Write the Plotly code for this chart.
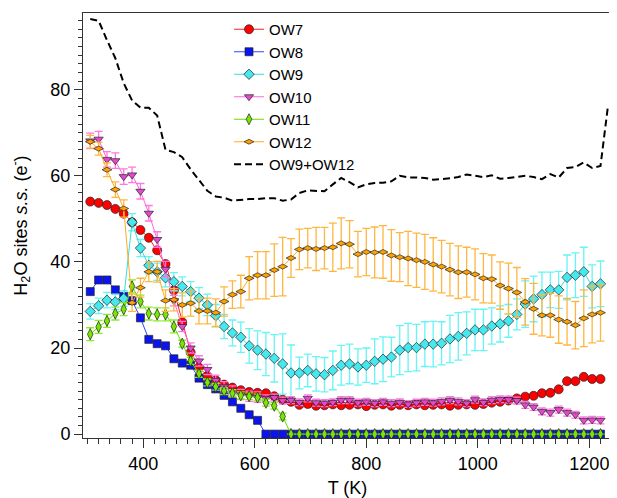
import plotly.graph_objects as go

# Temperatures (K)
T = [305 + 15 * i for i in range(62)]

ow7 = [54.0, 53.7, 53.2, 52.3, 51.2, 49.2, 47.4, 45.6, 42.7, 39.5,
       33.4, 26.0, 19.0, 15.5, 13.5, 12.5, 11.5, 10.8, 10.2, 9.8,
       9.6, 9.5, 8.8, 8.0, 7.5, 6.8, 7.0, 6.6, 6.7, 6.9,
       6.7, 6.8, 6.9, 6.5, 6.8, 6.9, 6.6, 6.8, 6.7, 6.9,
       6.7, 6.8, 6.9, 6.6, 6.8, 6.9, 6.8, 7.0, 7.3, 7.5,
       7.8, 8.3, 8.7, 8.9, 9.5, 9.6, 10.4, 12.3, 12.3, 13.3,
       12.8, 12.8]

ow8 = [33.1, 35.8, 35.8, 33.5, 32.0, 31.0, 27.0, 22.0, 21.0, 20.5,
       17.5, 16.5, 16.0, 13.0, 11.5, 10.5, 9.0, 7.5, 6.0, 4.5,
       3.2] + [0.0] * 41

ow9 = [28.5, 29.8, 31.1, 30.7, 31.5, 49.2, 43.2, 39.2, 37.7, 36.3,
       35.4, 34.3, 33.1, 31.6, 30.0, 27.5, 25.0, 23.5, 22.5, 20.5,
       19.5, 18.6, 17.6, 16.3, 14.2, 14.2, 14.8, 14.0, 13.8, 14.8,
       16.0, 16.3, 15.6, 16.0, 16.9, 17.4, 17.9, 19.5, 20.1, 20.1,
       20.9, 20.9, 21.1, 22.1, 22.7, 23.4, 24.2, 24.2, 25.1, 25.6,
       26.3, 27.8, 30.2, 31.4, 32.4, 33.5, 33.5, 36.4, 36.9, 37.7,
       34.3, 34.9]
ow9_err = [1.8, 1.8, 1.8, 1.8, 1.8, 2.0, 2.0, 2.0, 2.0, 2.1,
           2.1, 2.2, 2.3, 2.4, 2.5, 2.6, 2.8, 3.0, 3.5, 4.0,
           4.5, 5.0, 5.5, 7.0, 6.5, 3.7, 3.8, 4.0, 4.0, 4.5,
           4.6, 4.6, 4.2, 4.0, 5.2, 5.2, 4.6, 5.7, 5.6, 5.4,
           5.2, 5.3, 5.0, 5.5, 5.5, 5.0, 4.8, 4.8, 4.2, 4.2,
           3.8, 3.6, 5.4, 5.3, 5.2, 4.1, 4.3, 5.2, 5.2, 5.7,
           5.0, 5.3]

ow10 = [68.1, 68.5, 63.8, 63.5, 59.8, 60.2, 56.4, 51.3, 45.2, 38.3,
        31.0, 25.0, 20.0, 17.0, 15.0, 12.5, 11.0, 10.0, 9.2, 8.8,
        8.6, 8.3, 8.5, 7.8, 7.9, 7.4, 8.3, 7.3, 7.2, 7.4,
        7.9, 7.9, 7.3, 7.5, 7.2, 7.5, 7.2, 7.4, 7.0, 7.3,
        7.5, 7.3, 7.6, 7.9, 7.6, 7.2, 8.0, 7.4, 7.9, 8.1,
        8.0, 7.8, 6.8, 6.3, 5.3, 5.0, 5.7, 5.0, 4.5, 3.2,
        3.3, 3.2]
ow10_err = [1.8] * 10 + [1.2] * 11 + [0.8] * 41

ow11 = [23.2, 24.9, 26.3, 28.0, 29.0, 34.3, 30.8, 28.0, 27.8, 27.8,
        25.0, 21.0, 17.0, 14.0, 12.0, 11.0, 10.0, 9.5, 9.0, 8.8,
        8.5, 7.3, 6.6, 4.1] + [0.0] * 38
ow11_err = [1.5] * 11 + [0.8] * 13 + [0.0] * 38

ow12 = [67.9, 66.3, 61.4, 56.8, 52.4, 30.5, 34.0, 37.7, 37.7, 31.0,
        31.2, 30.0, 30.4, 28.6, 28.6, 28.2, 30.8, 32.4, 33.1, 36.2,
        36.9, 36.9, 38.1, 38.9, 40.9, 42.9, 43.2, 43.0, 43.2, 43.4,
        44.3, 44.1, 41.8, 42.3, 42.2, 42.3, 41.5, 41.1, 40.8, 40.4,
        40.0, 39.4, 38.9, 38.2, 37.6, 37.6, 37.1, 36.2, 36.0, 34.5,
        33.8, 32.9, 30.7, 29.1, 27.6, 27.6, 26.6, 26.1, 25.3, 26.9,
        27.8, 28.2]
ow12_err = [1.5, 1.5, 1.6, 1.8, 2.0, 2.0, 2.2, 2.3, 2.4, 2.5,
            2.6, 2.8, 3.0, 3.0, 3.0, 3.2, 3.4, 3.2, 3.8, 5.0,
            5.5, 5.5, 6.1, 6.8, 4.5, 4.7, 4.6, 5.0, 4.8, 5.6,
            5.9, 5.5, 5.3, 5.5, 5.9, 6.1, 6.0, 5.7, 6.3, 6.3,
            6.4, 6.2, 6.1, 6.1, 6.1, 5.8, 5.9, 5.7, 5.6, 5.5,
            5.9, 5.8, 5.4, 5.9, 4.8, 5.1, 5.5, 5.4, 5.5, 6.6,
            6.6, 6.6]

T_sum = T + [1233]
ow9_12 = [96.4, 96.0, 91.5, 87.3, 81.5, 77.5, 75.8, 75.8, 74.0, 66.0,
          65.5, 64.3, 61.5, 59.0, 56.5, 55.2, 54.9, 54.2, 54.4, 54.6,
          54.6, 54.8, 54.8, 54.2, 54.5, 56.0, 56.6, 56.5, 56.4, 58.0,
          59.5, 58.5, 57.3, 58.0, 58.3, 58.4, 58.7, 60.0, 59.6, 59.6,
          59.5, 59.1, 59.2, 59.4, 59.7, 60.3, 60.0, 59.7, 60.1, 59.3,
          59.5, 59.7, 60.0, 59.7, 59.2, 60.4, 59.6, 61.8, 62.0, 63.1,
          61.8, 62.3, 75.8]

FONT = "Liberation Sans, Arial, Helvetica, sans-serif"
OUT = dict(color="#222222", width=0.7)

fig = go.Figure()

def add(name, y, color, linecolor, symbol, size, err=None, errcolor=None):
    kw = {}
    if err is not None:
        kw["error_y"] = dict(type="data", array=err, visible=True,
                             color=errcolor, thickness=1.3, width=4)
    fig.add_trace(go.Scatter(
        x=T, y=y, name=name, mode="lines+markers",
        line=dict(color=linecolor, width=1),
        marker=dict(symbol=symbol, size=size, color=color, line=OUT),
        **kw))

add("OW7", ow7, "#ff0000", "#ff2020", "circle", 9)
add("OW8", ow8, "#0a14f0", "#3344ff", "square", 8)
add("OW9", ow9, "#44e8ee", "#33dddd", "diamond", 8, ow9_err, "#66f4f4")
add("OW10", ow10, "#e448d0", "#ff66dd", "triangle-down", 8, ow10_err, "#ff77e0")
add("OW11", ow11, "#77e600", "#66dd00", "diamond-tall", 8, ow11_err, "#88ee22")
add("OW12", ow12, "#ffa200", "#ffaa22", "diamond-wide", 7, ow12_err, "#ffb640")

fig.add_trace(go.Scatter(
    x=T_sum, y=ow9_12, name="OW9+OW12", mode="lines",
    line=dict(color="black", width=2, dash="7px,4px")))

axis_common = dict(
    showline=True, linecolor="#333333", linewidth=1, mirror=True,
    ticks="outside", tickcolor="#333333", tickwidth=1,
    showgrid=False, zeroline=False,
    tickfont=dict(family=FONT, size=18, color="black"),
)

fig.update_xaxes(
    range=[292, 1240.6], tickvals=[400, 600, 800, 1000, 1200], ticklen=9,
    minor=dict(dtick=20, tick0=0, ticks="outside", ticklen=5,
               tickcolor="#333333", showgrid=False),
    title=dict(text="T (K)", font=dict(family=FONT, size=18, color="black"),
               standoff=8),
    **axis_common)

fig.update_yaxes(
    range=[-0.9, 97.8], tickvals=[0, 20, 40, 60, 80], ticklen=8,
    minor=dict(dtick=2, tick0=0, ticks="outside", ticklen=4,
               tickcolor="#333333", showgrid=False),
    title=dict(text="H<sub>2</sub>O sites <i>s.s.</i> (e<sup>-</sup>)",
               font=dict(family=FONT, size=18, color="black"), standoff=26),
    **axis_common)

# The page body has an 8px margin, so the figure is sized to fit inside it.
fig.update_layout(
    width=609, height=490,
    margin=dict(l=75, r=4, t=4, b=55),
    paper_bgcolor="white", plot_bgcolor="white",
    showlegend=True,
    legend=dict(x=0.276, y=1.0, xanchor="left", yanchor="top",
                bgcolor="rgba(0,0,0,0)", borderwidth=0,
                font=dict(family=FONT, size=15, color="black"),
                tracegroupgap=0, itemwidth=30),
)

fig.write_html("out.html")
